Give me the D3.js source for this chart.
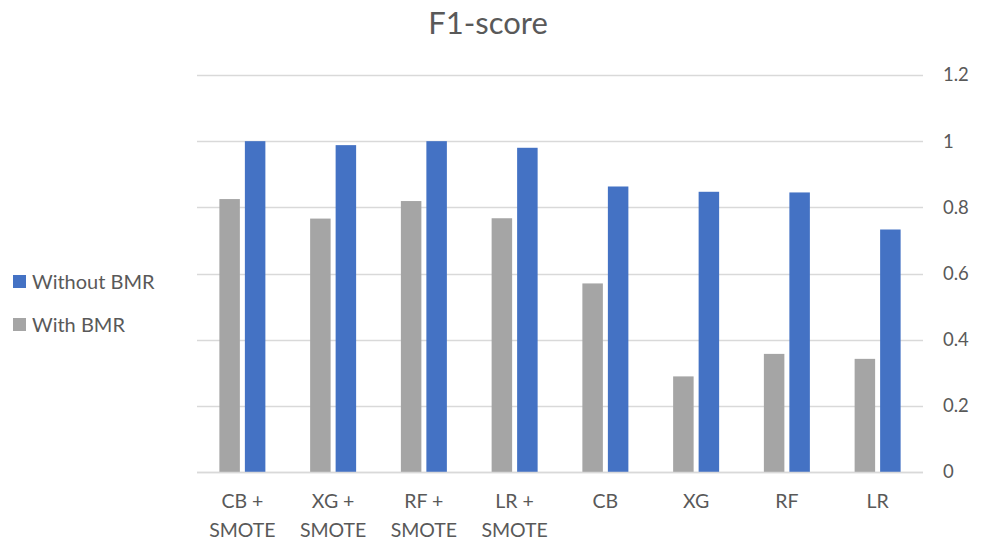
<!DOCTYPE html>
<html>
<head>
<meta charset="utf-8">
<script src="https://cdn.jsdelivr.net/npm/d3@7"></script>
<style>
  html, body { margin: 0; padding: 0; background: #ffffff; }
  svg text { font-family: Lato, "Open Sans", sans-serif; fill: #595959; }
</style>
</head>
<body>
<svg id="chart" width="991" height="544"></svg>
<script>
// Model categories (each label wraps onto two lines where needed)
const categories = ["CB + SMOTE", "XG + SMOTE", "RF + SMOTE", "LR + SMOTE", "CB", "XG", "RF", "LR"];
const categoryLines = [["CB +", "SMOTE"], ["XG +", "SMOTE"], ["RF +", "SMOTE"], ["LR +", "SMOTE"], ["CB"], ["XG"], ["RF"], ["LR"]];

// F1-score per model
const withBMR    = [0.825, 0.766, 0.819, 0.767, 0.570, 0.289, 0.357, 0.342];
const withoutBMR = [1.000, 0.988, 1.000, 0.980, 0.863, 0.847, 0.845, 0.733];

const seriesNames = ["With BMR", "Without BMR"];
const seriesColors = ["#A5A5A5", "#4472C4"];
const yTicks = [0, 0.2, 0.4, 0.6, 0.8, 1, 1.2];

const svg = d3.select("#chart");
const plot = { left: 197, right: 923, top: 75, bottom: 472 };

const x = d3.scaleBand().domain(categories).range([plot.left, plot.right]).padding(0);
const y = d3.scaleLinear().domain([0, 1.2]).range([plot.bottom, plot.top]);

// Gridlines
svg.append("g")
  .selectAll("line")
  .data(yTicks)
  .join("line")
  .attr("x1", plot.left).attr("x2", plot.right)
  .attr("y1", d => Math.round(y(d)) + 0.5).attr("y2", d => Math.round(y(d)) + 0.5)
  .attr("stroke", "#D9D9D9").attr("stroke-width", 1.5);

// Right-hand value axis labels
const yAxis = d3.axisRight(y).tickValues(yTicks).tickSize(0).tickPadding(0)
  .tickFormat(d => String(+d.toFixed(1)));
const yAxisG = svg.append("g").attr("transform", `translate(943,0)`).call(yAxis);
yAxisG.select(".domain").remove();
yAxisG.selectAll("text").attr("font-size", 18.5).attr("fill", "#595959")
  .style("font-family", "Lato, 'Open Sans', sans-serif");

// Bars: two series per category
const barWidth = 20.5, barGap = 5;
const seriesData = [withBMR, withoutBMR];
const groupWidth = barWidth * 2 + barGap;

seriesData.forEach((vals, si) => {
  svg.append("g")
    .selectAll("rect")
    .data(vals)
    .join("rect")
    .attr("x", (d, i) => x(categories[i]) + x.bandwidth() / 2 - groupWidth / 2 + si * (barWidth + barGap))
    .attr("width", barWidth)
    .attr("y", d => y(d))
    .attr("height", d => y(0) - y(d))
    .attr("fill", seriesColors[si]);
});

// Category axis line
svg.append("line")
  .attr("x1", plot.left).attr("x2", plot.right)
  .attr("y1", Math.round(y(0)) + 0.5).attr("y2", Math.round(y(0)) + 0.5)
  .attr("stroke", "#D9D9D9").attr("stroke-width", 1.5);

// Category labels
const xLabels = svg.append("g");
categories.forEach((c, i) => {
  const t = xLabels.append("text")
    .attr("x", x(c) + x.bandwidth() / 2)
    .attr("y", 508)
    .attr("text-anchor", "middle")
    .attr("font-size", 19.5);
  categoryLines[i].forEach((ln, li) => {
    t.append("tspan").attr("x", x(c) + x.bandwidth() / 2).attr("dy", li === 0 ? 0 : 29).text(ln);
  });
});

// Title
svg.append("text")
  .attr("x", 488).attr("y", 34)
  .attr("text-anchor", "middle")
  .attr("font-size", 31)
  .text("F1-score");

// Legend
const legendItems = [
  { name: seriesNames[1], color: seriesColors[1], y: 282 },
  { name: seriesNames[0], color: seriesColors[0], y: 325 }
];
const legend = svg.append("g");
legendItems.forEach(it => {
  legend.append("rect").attr("x", 13).attr("y", it.y - 7).attr("width", 13).attr("height", 13).attr("fill", it.color);
  legend.append("text").attr("x", 32).attr("y", it.y + 7).attr("font-size", 20).text(it.name);
});
</script>
</body>
</html>
